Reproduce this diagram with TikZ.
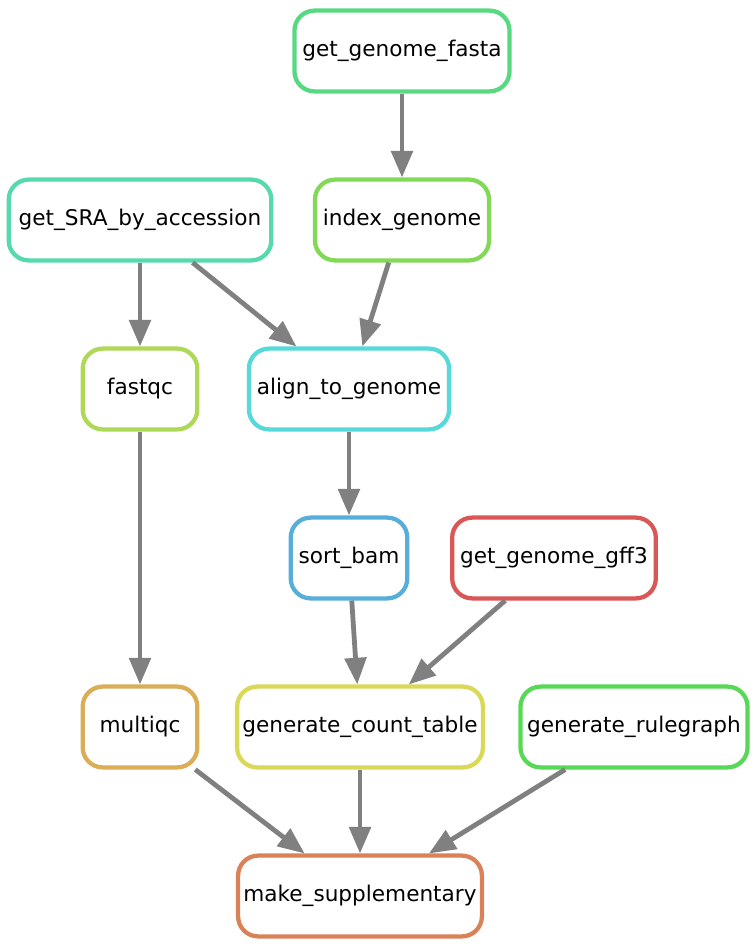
\documentclass[tikz,border=0pt]{standalone}
\usepackage{fontspec}
\setmainfont{DejaVu Sans}
\usepackage{tikz}
\usepackage{xcolor}
\usetikzlibrary{arrows.meta}

\definecolor{ruleRed}{RGB}{217,87,87}
\definecolor{ruleOrange}{RGB}{217,130,87}
\definecolor{ruleTan}{RGB}{217,174,87}
\definecolor{ruleYellow}{RGB}{217,217,87}
\definecolor{ruleLemon}{RGB}{174,217,87}
\definecolor{ruleLime}{RGB}{130,217,87}
\definecolor{ruleGreen}{RGB}{87,217,87}
\definecolor{ruleMint}{RGB}{87,217,130}
\definecolor{ruleTeal}{RGB}{87,217,174}
\definecolor{ruleCyan}{RGB}{87,217,217}
\definecolor{ruleBlue}{RGB}{87,174,217}
\definecolor{depGray}{RGB}{128,128,128}

\begin{document}
\begin{tikzpicture}[x=0.75pt, y=-0.75pt, node distance=126.75pt,
    rule/.style={draw, line width=3.2pt, rounded corners=15pt, fill=white,
        minimum width=86pt, minimum height=60.6pt, inner xsep=6pt,
        font=\fontsize{16.2}{19}\selectfont},
    dep/.style={draw=depGray, line width=3.6pt, -{Triangle[length=20pt, width=16pt]}}]
    \useasboundingbox (0,0) rectangle (754,945);

    \node (fasta) [rule, draw=ruleMint] at (402,51) {get\_genome\_fasta};
    \node (index) [rule, draw=ruleLime, below of=fasta] {index\_genome};
    \node (sra) [rule, draw=ruleTeal, left of=index, xshift=-69.75pt, minimum width=197pt] {get\_SRA\_by\_accession};
    \node (fastqc) [rule, draw=ruleLemon, below of=sra] {fastqc};
    \node (align) [rule, draw=ruleCyan, below of=index, xshift=-39.75pt] {align\_to\_genome};
    \node (sortbam) [rule, draw=ruleBlue, below of=align] {sort\_bam};
    \node (gff) [rule, draw=ruleRed, right of=sortbam, xshift=27pt] {get\_genome\_gff3};
    \node (count) [rule, draw=ruleYellow, below of=sortbam, xshift=8.25pt, inner xsep=4pt] {generate\_count\_table};
    \node (multiqc) [rule, draw=ruleTan, below of=fastqc, yshift=-126.75pt] {multiqc};
    \node (rulegraph) [rule, draw=ruleGreen, right of=count, xshift=78.75pt, inner xsep=5pt] {generate\_rulegraph};
    \node (supp) [rule, draw=ruleOrange, below of=count, inner xsep=4pt] {make\_supplementary};

    \draw[dep] (fasta) -- (index);
    \draw[dep] (sra) -- (fastqc);
    \draw[dep] (sra) -- (align);
    \draw[dep] (index) -- (align);
    \draw[dep] (align) -- (sortbam);
    \draw[dep] (fastqc) -- (multiqc);
    \draw[dep] (sortbam) -- (count);
    \draw[dep] (gff) -- (count);
    \draw[dep] (multiqc) -- (supp);
    \draw[dep] (count) -- (supp);
    \draw[dep] (rulegraph) -- (supp);
\end{tikzpicture}
\end{document}
